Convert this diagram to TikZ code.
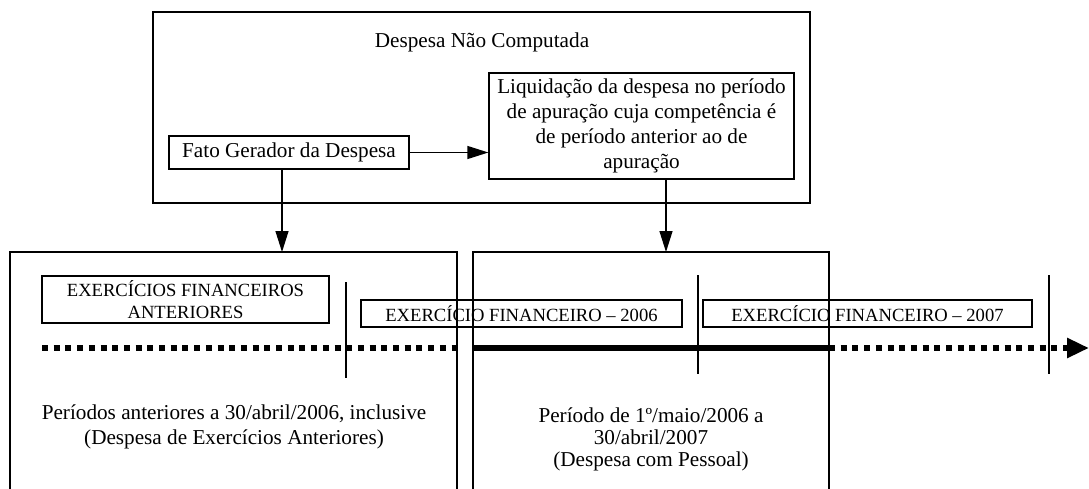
\documentclass[tikz,border=0pt]{standalone}
\usepackage{fontspec}
\setmainfont{Liberation Serif}
\usetikzlibrary{arrows.meta}
\begin{document}
\begin{tikzpicture}[x=1pt,y=-1pt,
        box/.style={draw, line width=1.3pt, inner sep=0pt, align=center},
        big/.style={font=\fontsize{21.2}{25}\selectfont},
        small/.style={font=\fontsize{18.6}{22}\selectfont},
        arr/.style={line width=1.3pt, -{Triangle[length=21pt,width=13pt]}},
        tick/.style={line width=1.2pt},
        dots/.style={line width=5.5pt, dash pattern=on 6pt off 5.7pt}]
        \useasboundingbox (0,0) rectangle (1089,489);
        % upper frame
        \node [box, minimum width=657pt, minimum height=191pt] (frame) at (481.5,107.5) {};
        \node [big] (title) at (482,42) {Despesa Não Computada};
        \node [box, big, minimum width=240pt, minimum height=33pt] (fato) at (289,152.5) {Fato Gerador da Despesa};
        \node [box, big, minimum width=305pt, minimum height=106pt] (liq) at (641.5,126)
            {Liquidação da despesa no período\\de apuração cuja competência é\\de período anterior ao de\\apuração};
        \draw [arr] (fato.east) -- (fato.east -| liq.west);
        % lower frames, open at the bottom
        \coordinate (lefttop) at (282,252);
        \coordinate (righttop) at (666,252);
        \draw [line width=1.3pt] (10,489) -- (10,252) -- (457,252) -- (457,489);
        \draw [line width=1.3pt] (473,489) -- (473,252) -- (829,252) -- (829,489);
        \draw [arr] (fato.south -| lefttop) -- (lefttop);
        \draw [arr] (liq.south -| righttop) -- (righttop);
        % exercise labels
        \node [box, small, minimum width=287pt, minimum height=47pt] (efa) at (185.5,299.5) {EXERCÍCIOS FINANCEIROS\\ANTERIORES};
        \node [box, small, minimum width=321pt, minimum height=27pt] (ef6) at (521.5,313.5) {EXERCÍCIO FINANCEIRO – 2006};
        \node [box, small, minimum width=329pt, minimum height=27pt] (ef7) at (867.5,313.5) {EXERCÍCIO FINANCEIRO – 2007};
        % time line
        \coordinate (t0) at (42,348);
        \coordinate (t1) at (457,348);
        \coordinate (t2) at (473,348);
        \coordinate (t3) at (829,348);
        \coordinate (t4) at (1089,348);
        \draw [dots] (t0) -- (t1);
        \draw [line width=5.5pt] (t2) -- (t3);
        \draw [dots, -{Triangle[length=22pt,width=19pt]}] (t3) -- (t4);
        \draw [tick] (346,282) -- (346,378);
        \draw [tick] (698,275) -- (698,374);
        \draw [tick] (1049,275) -- (1049,374);
        % periods
        \node [big, align=center] (antes) at (234,427) {Períodos anteriores a 30/abril/2006, inclusive\\(Despesa de Exercícios Anteriores)};
        \node [big, align=center, font=\fontsize{21.2}{22}\selectfont] (pessoal) at (651,439) {Período de 1º/maio/2006 a\\30/abril/2007\\(Despesa com Pessoal)};
\end{tikzpicture}
\end{document}
